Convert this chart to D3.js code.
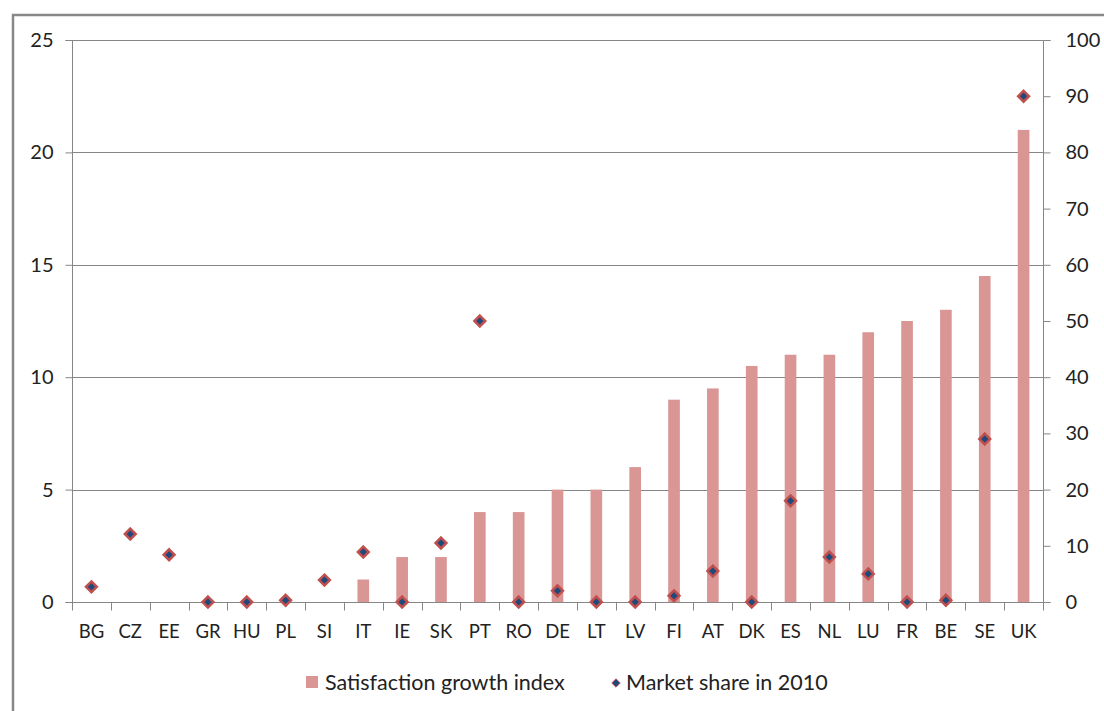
<!DOCTYPE html>
<html>
<head>
<meta charset="utf-8">
<script src="https://cdn.jsdelivr.net/npm/d3@7"></script>
<style>
  body { margin: 0; background: #fff; }
  svg { display: block; font-family: Lato, "Open Sans", sans-serif; }
</style>
</head>
<body>
<svg id="chart" width="1104" height="711"></svg>
<script>
// data
var countries = ["BG","CZ","EE","GR","HU","PL","SI","IT","IE","SK","PT","RO","DE","LT","LV","FI","AT","DK","ES","NL","LU","FR","BE","SE","UK"];
var growthIndex = [0,0,0,0,0,0,0,1,2,2,4,4,5,5,6,9,9.5,10.5,11,11,12,12.5,13,14.5,21];
var marketShare = [2.7,12.1,8.4,0,0,0.3,3.9,8.9,0,10.5,50,0,2,0,0,1.1,5.5,0,18,8,5,0,0.3,29,90];
var leftTicks = [0,5,10,15,20,25];
var rightTicks = [0,10,20,30,40,50,60,70,80,90,100];

var svg = d3.select("#chart");
// plot box (note: "top" is reserved on window, so use pTop)
var pLeft = 72, pRight = 1043, pTop = 40, pBottom = 602;

var x = d3.scaleBand().domain(countries).range([pLeft, pRight]);
var yL = d3.scaleLinear().domain([0, 25]).range([pBottom, pTop]);
var yR = d3.scaleLinear().domain([0, 100]).range([pBottom, pTop]);

var grey = "#868686";

// outer frame
svg.append("rect")
    .attr("x", 13).attr("y", 15)
    .attr("width", 1200).attr("height", 800)
    .attr("fill", "none")
    .attr("stroke", "#888")
    .attr("stroke-width", 2.5);

// gridlines
svg.append("g")
    .selectAll("line")
    .data(leftTicks.filter(d => d > 0))
    .join("line")
    .attr("x1", pLeft).attr("x2", pRight)
    .attr("y1", d => Math.round(yL(d)) + 0.5)
    .attr("y2", d => Math.round(yL(d)) + 0.5)
    .attr("stroke", grey);

// bars
var bw = x.bandwidth() * 0.3;
svg.append("g")
    .selectAll("rect")
    .data(countries)
    .join("rect")
    .attr("x", (d, i) => x(d) + x.bandwidth() / 2 - bw / 2)
    .attr("y", (d, i) => yL(growthIndex[i]))
    .attr("width", bw)
    .attr("height", (d, i) => pBottom - yL(growthIndex[i]))
    .attr("fill", "#d99694");

// axes
var axL = svg.append("g")
    .attr("transform", "translate(" + (pLeft + 0.5) + ",0)")
    .call(d3.axisLeft(yL).tickValues(leftTicks).tickSize(7).tickPadding(12));
var axR = svg.append("g")
    .attr("transform", "translate(" + (pRight + 0.5) + ",0)")
    .call(d3.axisRight(yR).tickValues(rightTicks).tickSize(7).tickPadding(15));
var axB = svg.append("g")
    .attr("transform", "translate(0," + (pBottom + 0.5) + ")")
    .call(d3.axisBottom(x).tickSize(0).tickPadding(22));

[axL, axR, axB].forEach(function(a) {
    a.select(".domain").attr("stroke", grey);
    a.selectAll(".tick line").attr("stroke", grey);
    a.selectAll("text").attr("fill", "#222").style("font-size", "20px").style("font-family", "Lato, 'Open Sans', sans-serif");
});
axB.selectAll("text").style("font-size", "18.5px");
axL.select(".domain").attr("d", "M-7," + (pTop + 0.5) + "H0V" + (pBottom + 0.5) + "H-7");
axR.select(".domain").attr("d", "M7," + (pTop + 0.5) + "H0V" + (pBottom + 0.5) + "H7");
axB.select(".domain").attr("d", "M" + pLeft + ",0H" + (pRight + 1));

// category boundary ticks
axB.selectAll(".bound")
    .data(countries.concat(["end"]))
    .join("line")
    .attr("class", "bound")
    .attr("x1", (d, i) => Math.round(i < countries.length ? x(d) : pRight) + 0.5)
    .attr("x2", (d, i) => Math.round(i < countries.length ? x(d) : pRight) + 0.5)
    .attr("y1", 0).attr("y2", 8)
    .attr("stroke", grey);

// markers
var diamond = d3.symbol().type(d3.symbolDiamond2).size(75);
svg.append("g")
    .selectAll("path")
    .data(countries)
    .join("path")
    .attr("transform", (d, i) => "translate(" + (x(d) + x.bandwidth() / 2) + "," + yR(marketShare[i]) + ")")
    .attr("d", diamond)
    .attr("fill", "#1f497d")
    .attr("stroke", "#c0504d")
    .attr("stroke-width", 2.5);

// legend
var lg = svg.append("g").style("font-size", "21.5px").attr("fill", "#222");
lg.append("rect")
    .attr("x", 306).attr("y", 676)
    .attr("width", 12).attr("height", 12)
    .attr("fill", "#d99694");
lg.append("text")
    .attr("x", 325).attr("y", 690)
    .text("Satisfaction growth index");
lg.append("path")
    .attr("transform", "translate(616,683)")
    .attr("d", d3.symbol().type(d3.symbolDiamond2).size(45))
    .attr("fill", "#1f497d")
    .attr("stroke", "#c0504d")
    .attr("stroke-width", 1);
lg.append("text")
    .attr("x", 626).attr("y", 690)
    .text("Market share in 2010");
</script>
</body>
</html>
